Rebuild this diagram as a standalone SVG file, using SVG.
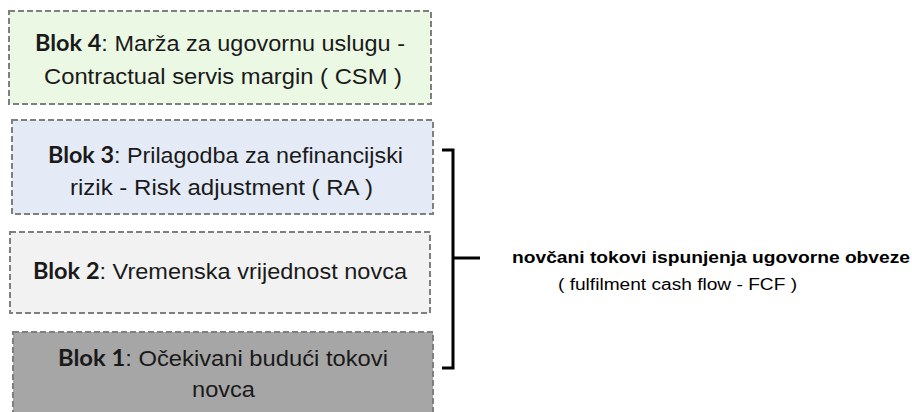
<svg xmlns="http://www.w3.org/2000/svg" width="912" height="412" viewBox="0 0 912 412">
<style>
.box{stroke:#7f7f7f;stroke-width:2;stroke-dasharray:6 3}
.t{font-family:"Liberation Sans",Arial,sans-serif;font-size:22px;fill:#1a1a1a}
.b{font-weight:bold;font-family:Lato,"Liberation Sans",sans-serif}
.br{fill:none;stroke:#000;stroke-width:3}
.r{font-family:"Liberation Sans",Arial,sans-serif;font-size:16px;fill:#000}
</style>
<rect width="912" height="412" fill="#fff"/>
<g id="blok4">
<rect class="box" x="9" y="11" width="422" height="93" fill="#ebf8e4"/>
<text class="t" x="35" y="51" textLength="370" lengthAdjust="spacingAndGlyphs"><tspan class="b">Blok 4</tspan>: Marža za ugovornu uslugu -</text>
<text class="t" x="44" y="84" textLength="358" lengthAdjust="spacingAndGlyphs">Contractual servis margin ( CSM )</text>
</g>
<g id="blok3">
<rect class="box" x="12" y="120" width="421" height="94" fill="#e5ebf6"/>
<text class="t" x="48" y="163" textLength="355" lengthAdjust="spacingAndGlyphs"><tspan class="b">Blok 3</tspan>: Prilagodba za nefinancijski</text>
<text class="t" x="70" y="195" textLength="303" lengthAdjust="spacingAndGlyphs">rizik - Risk adjustment ( RA )</text>
</g>
<g id="blok2">
<rect class="box" x="10" y="232" width="420" height="81" fill="#f2f2f2"/>
<text class="t" x="33" y="279" textLength="374" lengthAdjust="spacingAndGlyphs"><tspan class="b">Blok 2</tspan>: Vremenska vrijednost novca</text>
</g>
<g id="blok1">
<rect class="box" x="13" y="332" width="420" height="90" fill="#a6a6a6"/>
<text class="t" x="58" y="366" textLength="330" lengthAdjust="spacingAndGlyphs"><tspan class="b">Blok 1</tspan>: Očekivani budući tokovi</text>
<text class="t" x="192" y="397" textLength="63" lengthAdjust="spacingAndGlyphs">novca</text>
</g>
<g id="connectors">
<path class="br" d="M442 150 H453 V368 H442 M453 258 H480"/>
</g>
<g id="fcf">
<text class="r" x="512" y="263" font-weight="bold" textLength="398" lengthAdjust="spacingAndGlyphs">novčani tokovi ispunjenja ugovorne obveze</text>
<text class="r" x="558" y="290" font-size="17" textLength="239" lengthAdjust="spacingAndGlyphs">( fulfilment cash flow - FCF )</text>
</g>
</svg>
